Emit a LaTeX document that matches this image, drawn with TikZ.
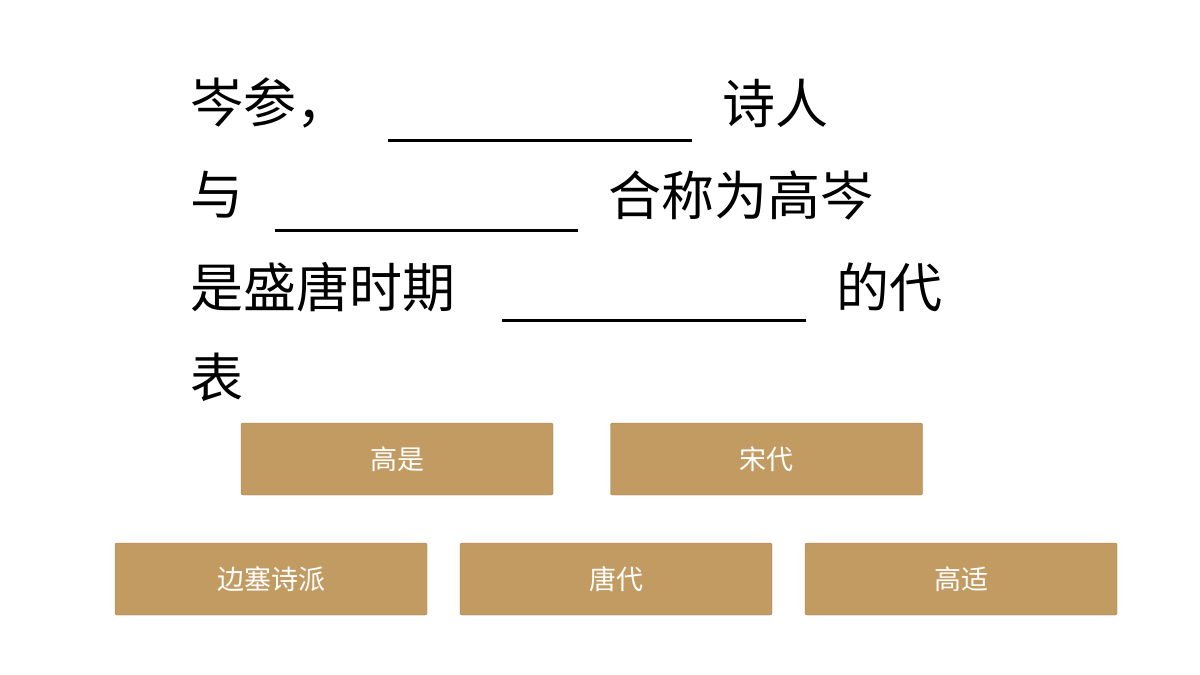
\documentclass[tikz,border=0pt]{standalone}
\usepackage{fontspec}
\setmainfont{Noto Sans CJK SC}
\definecolor{btn}{HTML}{C29B62}
\begin{document}
\begin{tikzpicture}[x=1pt,y=-1pt,
  line/.style={anchor=west,inner sep=0pt,font=\fontsize{53}{53}\selectfont},
  blank/.style={line width=3pt,black},
  btnbox/.style={fill=btn,draw=btn!80!black,line width=0.4pt,rounded corners=2pt,minimum width=312pt,minimum height=72pt,text=white,font=\fontsize{27}{27}\selectfont}]
\useasboundingbox (0,0) rectangle (1200,675);
\node[line] (t1) at (190,103) {岑参，};
\coordinate (u1a) at (388,140); \coordinate (u1b) at (692,140);
\draw[blank] (u1a) -- (u1b);
\node[line] (t1b) at (722,103) {诗人};
\node[line] (t2) at (190,195) {与};
\coordinate (u2a) at (275,230); \coordinate (u2b) at (578,230);
\draw[blank] (u2a) -- (u2b);
\node[line] (t2b) at (608,195) {合称为高岑};
\node[line] (t3) at (190,287) {是盛唐时期};
\coordinate (u3a) at (502,320); \coordinate (u3b) at (806,320);
\draw[blank] (u3a) -- (u3b);
\node[line] (t3b) at (836,287) {的代};
\node[line] (t4) at (190,377) {表};
\node[btnbox] (b1) at (397,459) {高是};
\node[btnbox] (b2) at (766.5,459) {宋代};
\node[btnbox] (b3) at (271,579) {边塞诗派};
\node[btnbox] (b4) at (616,579) {唐代};
\node[btnbox] (b5) at (961,579) {高适};
\end{tikzpicture}
\end{document}
